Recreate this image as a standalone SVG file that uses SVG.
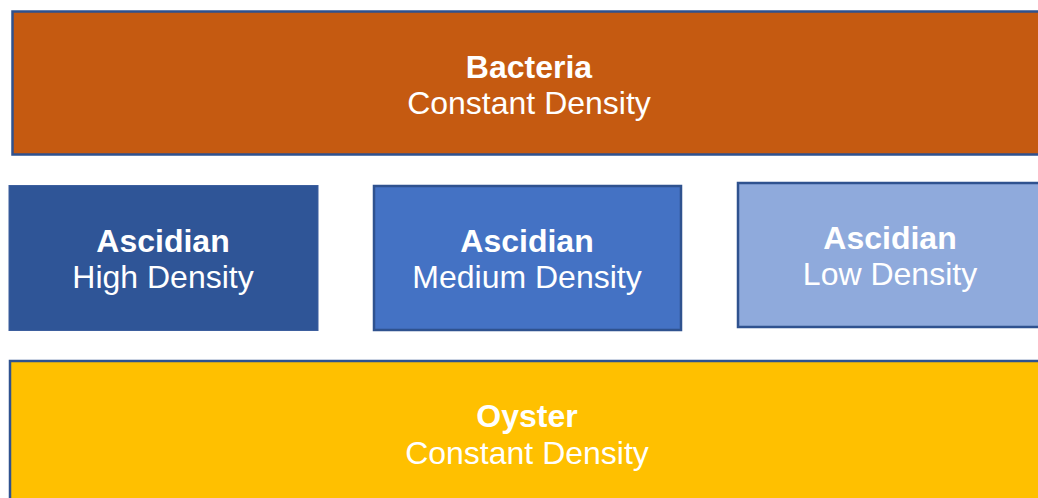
<svg xmlns="http://www.w3.org/2000/svg" width="1038" height="498" viewBox="0 0 1038 498">
<style>
.t{font-family:"Liberation Sans",Arial,sans-serif;font-size:32px;fill:#fff;text-anchor:middle}
.b{font-weight:bold}
.box{stroke:#2F528F;stroke-width:2.5}
</style>
<rect width="1038" height="498" fill="#fff"/>
<g id="bacteria">
<rect class="box" x="12.5" y="11.5" width="1040" height="143" fill="#C55A11"/>
<text class="t b" x="529" y="77.5">Bacteria</text>
<text class="t" x="529" y="114">Constant Density</text>
</g>
<g id="ascidian-high">
<rect x="9" y="185.5" width="309" height="145" fill="#2F5597" stroke="#3D5F9E" stroke-width="1"/>
<text class="t b" x="163" y="251.5">Ascidian</text>
<text class="t" x="163" y="288">High Density</text>
</g>
<g id="ascidian-medium">
<rect class="box" x="374" y="186" width="307" height="144" fill="#4472C4"/>
<text class="t b" x="527" y="251.5">Ascidian</text>
<text class="t" x="527" y="288">Medium Density</text>
</g>
<g id="ascidian-low">
<rect class="box" x="738" y="183" width="310" height="144" fill="#8FAADC"/>
<text class="t b" x="890" y="248.5">Ascidian</text>
<text class="t" x="890" y="285">Low Density</text>
</g>
<g id="oyster">
<rect class="box" x="10" y="361" width="1040" height="150" fill="#FFC000"/>
<text class="t b" x="527" y="427">Oyster</text>
<text class="t" x="527" y="464">Constant Density</text>
</g>
<g id="connectors"/>
</svg>
